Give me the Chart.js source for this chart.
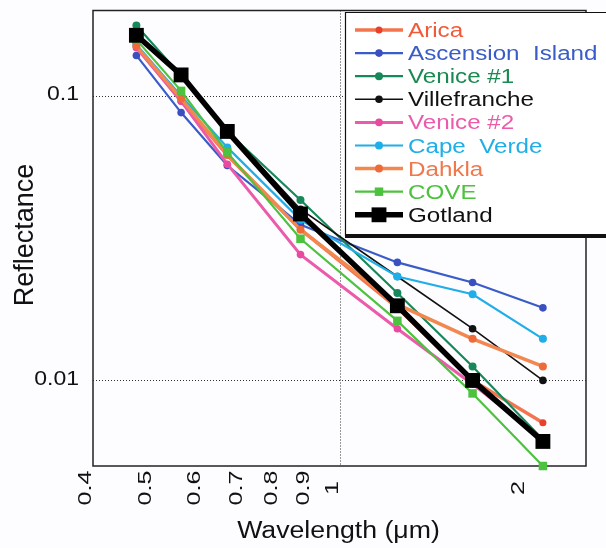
<!DOCTYPE html>
<html>
<head>
<meta charset="utf-8">
<script src="https://cdn.jsdelivr.net/npm/chart.js@4/dist/chart.umd.min.js"></script>
<style>
  html, body { margin: 0; padding: 0; background: #fdfdff; }
  #wrap { width: 606px; height: 548px; position: relative; }
</style>
</head>
<body>
<div id="wrap"><canvas id="myChart"></canvas></div>
<script>
// band centres (um) and surface reflectance per site
const wavelengths = [0.47, 0.555, 0.659, 0.865, 1.24, 1.64, 2.13];
const sites = ["Arica", "Ascension  Island", "Venice #1", "Villefranche", "Venice #2", "Cape  Verde", "Dahkla", "COVE", "Gotland"];

const arica        = [0.150, 0.096, 0.062, 0.034, 0.0180, 0.0100, 0.0071];
const ascension    = [0.139, 0.0875, 0.057, 0.0353, 0.0260, 0.0221, 0.0180];
const venice1      = [0.177, 0.118, 0.075, 0.0431, 0.0203, 0.0112, 0.0062];
const villefranche = [0.163, 0.120, 0.076, 0.0400, 0.0232, 0.0152, 0.0100];
const venice2      = [0.148, 0.096, 0.0576, 0.0277, 0.0152, 0.0097, 0.0062];
const capeVerde    = [0.152, 0.100, 0.066, 0.0367, 0.0232, 0.0201, 0.0140];
const dahkla       = [0.150, 0.098, 0.062, 0.0339, 0.0185, 0.0140, 0.0112];
const cove         = [0.158, 0.1043, 0.0634, 0.0315, 0.0162, 0.0090, 0.0050];
const gotland      = [0.1636, 0.1187, 0.0751, 0.0385, 0.0183, 0.0100, 0.0061];

const series = [arica, ascension, venice1, villefranche, venice2, capeVerde, dahkla, cove, gotland];

const xTicks = [0.4, 0.5, 0.6, 0.7, 0.8, 0.9, 1, 2];
const yTicks = [0.01, 0.1];
const xGrid = [1];

// line colour, marker colour, text colour, line width, marker, radius
const styles = [
  { line: "#f3754e", dot: "#e8402a", text: "#f05a3a", width: 3.5, shape: "circle", r: 3.5 },
  { line: "#3a5cc8", dot: "#3a50c0", text: "#3a5cc8", width: 2.2, shape: "circle", r: 3.8 },
  { line: "#17885a", dot: "#17885a", text: "#1a8a50", width: 2.2, shape: "circle", r: 4 },
  { line: "#111111", dot: "#111111", text: "#111111", width: 1.6, shape: "circle", r: 3.8 },
  { line: "#ec5aaa", dot: "#e84aa0", text: "#ec5aaa", width: 3,   shape: "circle", r: 3.8 },
  { line: "#20aee8", dot: "#20aee8", text: "#20aee8", width: 2.2, shape: "circle", r: 4 },
  { line: "#f2874f", dot: "#ee6a38", text: "#f0784a", width: 3.5, shape: "circle", r: 4 },
  { line: "#4cc23e", dot: "#4cc23e", text: "#4cc23e", width: 2.2, shape: "rect",   r: 6 },
  { line: "#000000", dot: "#000000", text: "#111111", width: 5.5, shape: "rect",   r: 10.5 }
];

const FONT = "'Liberation Sans', Arial, sans-serif";

function drawText(ctx, str, x, y, size, opts) {
  ctx.save();
  ctx.translate(x, y);
  if (opts.rotate) ctx.rotate(opts.rotate);
  ctx.scale(opts.stretch || 1, 1);
  ctx.font = size + "px " + FONT;
  ctx.fillStyle = opts.color || "#111";
  ctx.textAlign = opts.align || "left";
  ctx.textBaseline = opts.baseline || "alphabetic";
  ctx.fillText(str, 0, 0);
  ctx.restore();
}

function drawMarker(ctx, shape, x, y, r, color) {
  ctx.fillStyle = color;
  ctx.beginPath();
  if (shape === "rect") {
    const s = r * Math.SQRT1_2;
    ctx.rect(x - s, y - s, 2 * s, 2 * s);
  } else {
    ctx.arc(x, y, r, 0, Math.PI * 2);
  }
  ctx.fill();
}

const frame = {
  id: "frame",
  beforeDatasetsDraw(chart) {
    const ctx = chart.ctx;
    const a = chart.chartArea;
    const xs = chart.scales.x, ys = chart.scales.y;
    ctx.save();
    ctx.strokeStyle = "#333";
    ctx.lineWidth = 1;
    ctx.setLineDash([1, 2]);
    yTicks.forEach(v => {
      const py = Math.round(ys.getPixelForValue(v)) + 0.5;
      ctx.beginPath(); ctx.moveTo(a.left, py); ctx.lineTo(a.right, py); ctx.stroke();
    });
    xGrid.forEach(v => {
      const px = Math.round(xs.getPixelForValue(v)) + 0.5;
      ctx.beginPath(); ctx.moveTo(px, a.top); ctx.lineTo(px, a.bottom); ctx.stroke();
    });
    ctx.setLineDash([]);
    ctx.strokeStyle = "#222";
    ctx.lineWidth = 1.5;
    ctx.strokeRect(a.left, a.top, a.right - a.left, a.bottom - a.top);
    ctx.restore();
  },
  afterDraw(chart) {
    const ctx = chart.ctx;
    const a = chart.chartArea;
    const xs = chart.scales.x, ys = chart.scales.y;

    // tick labels
    yTicks.forEach(v => {
      drawText(ctx, String(v), 79, ys.getPixelForValue(v) - 1, 19.5, { align: "right", baseline: "middle", stretch: 1.18 });
    });
    xTicks.forEach(v => {
      drawText(ctx, String(v), xs.getPixelForValue(v) - 2, 488, 19, { rotate: -Math.PI / 2, align: "center", stretch: 1.32 });
    });

    // axis titles
    drawText(ctx, "Wavelength (\u03bcm)", (a.left + a.right) / 2 - 1, 538, 23, { align: "center", stretch: 1.16 });
    drawText(ctx, "Reflectance", 33, 235, 27, { rotate: -Math.PI / 2, align: "center" });

    // legend box
    const bx = 345, by = 12, bw = 270, bh = 224;
    ctx.save();
    ctx.fillStyle = "#fff";
    ctx.fillRect(bx, by, bw, bh);
    ctx.strokeStyle = "#111";
    ctx.lineWidth = 1.2;
    ctx.beginPath();
    ctx.moveTo(bx + 0.5, by + bh);
    ctx.lineTo(bx + 0.5, by + 0.5);
    ctx.lineTo(bx + bw, by + 0.5);
    ctx.stroke();
    ctx.lineWidth = 4;
    ctx.beginPath();
    ctx.moveTo(bx, by + bh);
    ctx.lineTo(bx + bw, by + bh);
    ctx.stroke();

    sites.forEach((name, i) => {
      const st = styles[i];
      const yy = 30 + i * 23.1;
      ctx.strokeStyle = st.line;
      ctx.lineWidth = st.width;
      ctx.beginPath();
      ctx.moveTo(355, yy);
      ctx.lineTo(403, yy);
      ctx.stroke();
      drawMarker(ctx, st.shape, 379, yy, st.r, st.dot);
      drawText(ctx, name, 408, yy + 7, 19.5, { color: st.text, stretch: 1.24 });
    });
    ctx.restore();
  }
};

const datasets = series.map((vals, i) => ({
  label: sites[i],
  data: wavelengths.map((w, k) => ({ x: w, y: vals[k] })),
  borderColor: styles[i].line,
  backgroundColor: styles[i].dot,
  borderWidth: styles[i].width,
  pointStyle: styles[i].shape,
  pointRadius: styles[i].r,
  pointBorderWidth: 0,
  pointHoverRadius: styles[i].r,
  tension: 0,
  clip: false,
  order: series.length - i
}));

const config = {
  type: "line",
  data: { datasets: datasets },
  options: {
    responsive: true,
    maintainAspectRatio: false,
    animation: false,
    events: [],
    layout: { padding: { left: 93, top: 7, right: 20, bottom: 82 } },
    plugins: {
      legend: { display: false },
      tooltip: { enabled: false }
    },
    scales: {
      x: {
        type: "logarithmic",
        min: 0.4,
        max: 2.5,
        display: false
      },
      y: {
        type: "logarithmic",
        min: 0.005,
        max: 0.2,
        display: false
      }
    }
  },
  plugins: [frame]
};

const myChart = new Chart(document.getElementById("myChart"), config);
</script>
</body>
</html>
